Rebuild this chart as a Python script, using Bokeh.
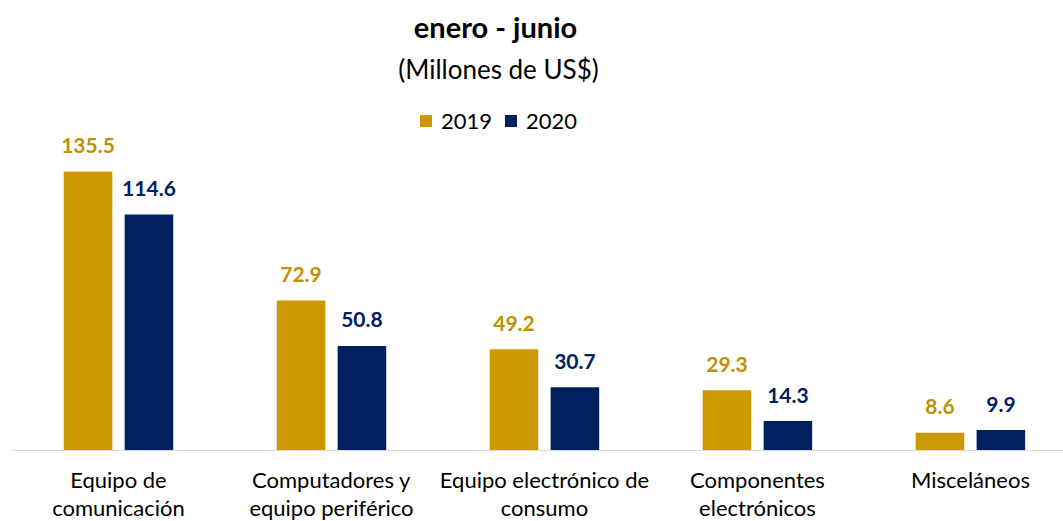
from bokeh.plotting import figure
from bokeh.models import (ColumnDataSource, Range1d, FixedTicker, Label,
                          Legend, LegendItem)
from bokeh.transform import dodge
from bokeh.core.properties import value
from bokeh.embed import file_html
from bokeh.resources import INLINE

categories = ["Equipo de\ncomunicación", "Computadores y\nequipo periférico",
              "Equipo electrónico de\nconsumo", "Componentes\nelectrónicos", "Misceláneos"]
v2019 = [135.5, 72.9, 49.2, 29.3, 8.6]
v2020 = [114.6, 50.8, 30.7, 14.3, 9.9]
series = ["2019", "2020"]
title_text = "enero - junio"
subtitle_text = "(Millones de US$)"

C19 = "#CC9900"
C20 = "#002060"
L19 = "#BF9000"
FONT = "Lato"

idx = list(range(len(categories)))
src = ColumnDataSource(dict(
    x=idx, v19=v2019, v20=v2020,
    t19=[f"{v:.1f}" for v in v2019], t20=[f"{v:.1f}" for v in v2020],
))

p = figure(frame_width=1051, frame_height=450, output_backend="svg", toolbar_location=None,
           x_range=Range1d(-0.4977, 4.437), y_range=Range1d(0, 218.55),
           y_axis_location=None, min_border_left=12, min_border_right=0,
           min_border_top=0, min_border_bottom=71)
p.outline_line_color = None
p.xgrid.visible = False
p.ygrid.visible = False
p.background_fill_color = "white"

OFF = 0.143
W = 0.228
r19 = p.vbar(x=dodge("x", -OFF, range=p.x_range), top="v19", width=W, source=src,
             fill_color=C19, line_color=None)
r20 = p.vbar(x=dodge("x", OFF, range=p.x_range), top="v20", width=W, source=src,
             fill_color=C20, line_color=None)

p.text(x=dodge("x", -OFF, range=p.x_range), y="v19", text="t19", source=src,
       text_align="center", text_baseline="alphabetic", y_offset=-26,
       text_font=value(FONT), text_font_style="bold", text_font_size="21px",
       text_color=L19)
p.text(x=dodge("x", OFF, range=p.x_range), y="v20", text="t20", source=src,
       text_align="center", text_baseline="alphabetic", y_offset=-26,
       text_font=value(FONT), text_font_style="bold", text_font_size="21px",
       text_color=C20)

ax = p.xaxis[0]
ax.ticker = FixedTicker(ticks=idx)
ax.major_label_overrides = {i: c for i, c in zip(idx, categories)}
ax.axis_line_color = "#D9D9D9"
ax.axis_line_width = 1
ax.major_tick_line_color = None
ax.minor_tick_line_color = None
ax.major_tick_out = 0
ax.major_tick_in = 0
ax.major_label_standoff = 15
ax.major_label_text_font = FONT
ax.major_label_text_font_size = "22px"
ax.major_label_text_color = "#000000"
ax.major_label_text_line_height = 1.05

p.add_layout(Label(x=483, y=424, x_units="screen", y_units="screen", text=title_text,
                   text_align="center", text_baseline="alphabetic", text_font=FONT,
                   text_font_style="bold", text_font_size="29px", text_color="#000000"))
p.add_layout(Label(x=486, y=382, x_units="screen", y_units="screen", text=subtitle_text,
                   text_align="center", text_baseline="alphabetic", text_font=FONT,
                   text_font_size="26px", text_color="#000000"))

legend = Legend(items=[LegendItem(label=series[0], renderers=[r19]),
                       LegendItem(label=series[1], renderers=[r20])],
                orientation="horizontal", location=(406, 316),
                glyph_width=15, glyph_height=15, label_standoff=8, spacing=11,
                padding=0, margin=0, border_line_color=None, background_fill_alpha=0,
                label_text_font=FONT, label_text_font_size="22px", label_height=22,
                label_text_color="#000000")
p.add_layout(legend)

open("out.html", "w").write(file_html(p, INLINE))
